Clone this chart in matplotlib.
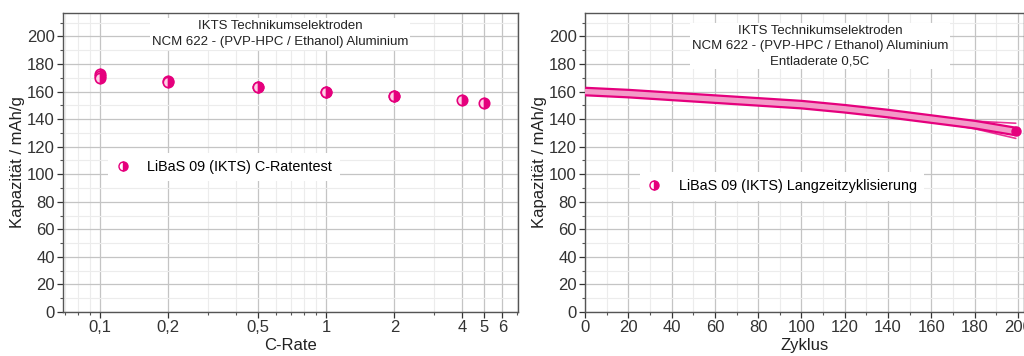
import matplotlib
matplotlib.use("Agg")
import matplotlib.pyplot as plt
from matplotlib.lines import Line2D
from matplotlib.ticker import MultipleLocator, FixedLocator, LogLocator, NullFormatter, FixedFormatter

# ---- rate test data ----
c_rate = [0.1, 0.1, 0.1, 0.2, 0.2, 0.5, 0.5, 1, 1, 2, 2, 4, 5]
cap_rate = [173, 171, 170, 168, 167, 163, 163, 160, 160, 157, 157, 153.5, 151.5]
rate_ticks = [0.1, 0.2, 0.5, 1, 2, 4, 5, 6]
rate_ticklabels = ["0,1", "0,2", "0,5", "1", "2", "4", "5", "6"]

# ---- long-term cycling data ----
cycles = [0, 20, 40, 60, 80, 100, 120, 140, 160, 180, 199]
cap_main = [160, 158.5, 156.5, 154.5, 152.5, 150.5, 147.5, 144, 140, 136, 131]
cap_high = [160, 158.5, 156.5, 154.5, 152.5, 150.5, 148, 145, 141.5, 138.5, 137]
cap_low = [160, 158.5, 156.5, 154.5, 152.5, 150.5, 147, 143, 138.5, 133, 126]

PINK = "#E5007D"
PINK_LIGHT = "#F39AC8"
FONT = "Liberation Sans"
plt.rcParams["font.family"] = [FONT, "DejaVu Sans"]

fig = plt.figure(figsize=(10.24, 3.56), dpi=100)
ax1 = fig.add_axes([0.0615, 0.1236, 0.4445, 0.8399])
ax2 = fig.add_axes([0.5713, 0.1236, 0.4287, 0.8399])


def style_axis(ax):
    ax.set_ylim(0, 217)
    ax.yaxis.set_major_locator(MultipleLocator(20))
    ax.yaxis.set_minor_locator(MultipleLocator(10))
    ax.grid(which="major", color="#c4c4c4", lw=0.9, zorder=0)
    ax.grid(which="minor", color="#ececec", lw=0.8, zorder=0)
    ax.set_axisbelow(True)
    for s in ax.spines.values():
        s.set_color("#555555")
        s.set_linewidth(1.0)
    ax.tick_params(which="major", direction="out", length=4, width=0.9,
                   colors="#333333", labelsize=12, pad=2)
    ax.tick_params(which="minor", direction="out", length=2, width=0.8, colors="#555555")
    ax.set_ylabel("Kapazität / mAh/g", fontsize=12, color="#222222", labelpad=1)


def legend_handle(label):
    return Line2D([], [], ls="none", marker="o", markersize=6.5, color=PINK,
                  fillstyle="right", markerfacecoloralt="white",
                  markeredgecolor=PINK, markeredgewidth=1.0, label=label)


# ---- left panel: C-rate test ----
style_axis(ax1)
ax1.set_xscale("log")
ax1.set_xlim(0.0686, 7.05)
ax1.xaxis.set_major_locator(FixedLocator(rate_ticks))
ax1.xaxis.set_major_formatter(FixedFormatter(rate_ticklabels))
ax1.xaxis.set_minor_locator(LogLocator(base=10, subs=[1, 2, 3, 4, 5, 6, 7, 8, 9], numticks=20))
ax1.xaxis.set_minor_formatter(NullFormatter())
ax1.plot(c_rate, cap_rate, ls="none", marker="o", markersize=7.5, color=PINK,
         fillstyle="right", markerfacecoloralt="#ffd0e6",
         markeredgecolor=PINK, markeredgewidth=1.2, zorder=3)
ax1.set_xlabel("C-Rate", fontsize=12, color="#222222", labelpad=2)
ax1.text(0.477, 0.975, "IKTS Technikumselektroden\nNCM 622 - (PVP-HPC / Ethanol) Aluminium",
         transform=ax1.transAxes, ha="center", va="top", fontsize=9.5,
         linespacing=1.35, color="#222222",
         bbox=dict(facecolor="white", edgecolor="none", pad=1.5))
ax1.legend(handles=[legend_handle("LiBaS 09 (IKTS) C-Ratentest")],
           loc="center left", bbox_to_anchor=(0.10, 0.485),
           frameon=True, fancybox=False, edgecolor="none", facecolor="white",
           framealpha=1, fontsize=10.4, handlelength=1.0, handletextpad=1.2,
           borderpad=0.5, borderaxespad=0)

# ---- right panel: long-term cycling ----
style_axis(ax2)
ax2.set_xlim(0, 202.8)
ax2.xaxis.set_major_locator(MultipleLocator(20))
ax2.xaxis.set_minor_locator(MultipleLocator(10))
for cap in (cap_high, cap_low):
    ax2.plot(cycles, cap, color=PINK, lw=1.2, alpha=0.8, zorder=3,
             solid_capstyle="round")
ax2.plot(cycles, cap_main, color=PINK, lw=7.0, zorder=4, solid_capstyle="butt")
ax2.plot(cycles, cap_main, color=PINK_LIGHT, lw=3.8, zorder=5, solid_capstyle="butt")
ax2.plot(cycles[-1:], cap_main[-1:], ls="none", marker="o", markersize=6.5,
         color=PINK, zorder=6)
ax2.set_xlabel("Zyklus", fontsize=12, color="#222222", labelpad=2)
ax2.text(0.535, 0.96,
         "IKTS Technikumselektroden\nNCM 622 - (PVP-HPC / Ethanol) Aluminium\nEntladerate 0,5C",
         transform=ax2.transAxes, ha="center", va="top", fontsize=9.5,
         linespacing=1.35, color="#222222",
         bbox=dict(facecolor="white", edgecolor="none", pad=1.5))
ax2.legend(handles=[legend_handle("LiBaS 09 (IKTS) Langzeitzyklisierung")],
           loc="center left", bbox_to_anchor=(0.125, 0.42),
           frameon=True, fancybox=False, edgecolor="none", facecolor="white",
           framealpha=1, fontsize=10.4, handlelength=1.0, handletextpad=1.2,
           borderpad=0.5, borderaxespad=0)

fig.savefig("out.png", dpi=100, facecolor="white")
